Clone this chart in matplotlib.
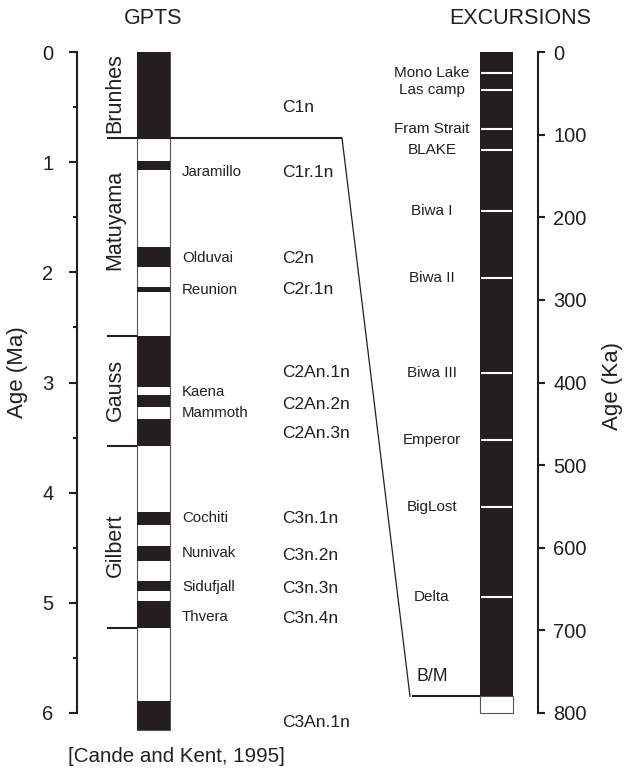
import matplotlib
matplotlib.use('Agg')
import matplotlib.pyplot as plt
from matplotlib.patches import Rectangle, ConnectionPatch
from matplotlib.ticker import FixedLocator

plt.rcParams['font.family'] = ['Liberation Sans', 'DejaVu Sans']

INK = '#231f20'

# ---------------- data ----------------
# GPTS normal-polarity intervals (Ma)
normal_top = [0.00, 0.99, 1.77, 2.13, 2.58, 3.11, 3.33, 4.18, 4.48, 4.80, 4.98, 5.89]
normal_base = [0.78, 1.07, 1.95, 2.18, 3.04, 3.22, 3.58, 4.29, 4.62, 4.89, 5.23, 6.15]
gpts_base = 6.15

epoch_names = ['Brunhes', 'Matuyama', 'Gauss', 'Gilbert']
epoch_label_age = [0.37, 1.52, 3.07, 4.48]
epoch_boundaries = [0.78, 2.58, 3.58, 5.23]

subchron_names = ['Jaramillo', 'Olduvai', 'Reunion', 'Kaena', 'Mammoth',
                  'Cochiti', 'Nunivak', 'Sidufjall', 'Thvera']
subchron_age = [1.09, 1.87, 2.16, 3.09, 3.28, 4.23, 4.55, 4.86, 5.13]

chron_names = ['C1n', 'C1r.1n', 'C2n', 'C2r.1n', 'C2An.1n', 'C2An.2n', 'C2An.3n',
               'C3n.1n', 'C3n.2n', 'C3n.3n', 'C3n.4n', 'C3An.1n']
chron_age = [0.50, 1.09, 1.87, 2.16, 2.91, 3.20, 3.46, 4.23, 4.57, 4.87, 5.14, 6.09]

left_ticks = [0, 1, 2, 3, 4, 5, 6]

# Excursions (ka)
excursion_names = ['Mono Lake', 'Las camp', 'Fram Strait', 'BLAKE', 'Biwa I',
                   'Biwa II', 'Biwa III', 'Emperor', 'BigLost', 'Delta']
excursion_age = [26, 46, 93, 119, 192, 273, 388, 470, 551, 660]
bm_age = 780
exc_base = 800
right_ticks = [0, 100, 200, 300, 400, 500, 600, 700, 800]

# ---------------- figure ----------------
W, H = 627, 770
fig = plt.figure(figsize=(W / 100, H / 100), dpi=100)

ax_bottom = (H - 713) / H
ax_height = (713 - 52) / H

# ---- GPTS axis ----
ax1 = fig.add_axes([77 / W, ax_bottom, 300 / W, ax_height])
ax1.set_xlim(0, 300)
ax1.set_ylim(6, 0)
ax1.patch.set_visible(False)
for s in ['top', 'right', 'bottom']:
    ax1.spines[s].set_visible(False)
ax1.spines['left'].set_linewidth(1.5)
ax1.spines['left'].set_color(INK)
ax1.set_xticks([])
ax1.set_yticks(left_ticks)
ax1.yaxis.set_minor_locator(FixedLocator([t + 0.5 for t in left_ticks[:-1]]))
ax1.tick_params(axis='y', which='major', length=6, width=1.5, pad=11,
                labelsize=14.5, colors=INK)
ax1.tick_params(axis='y', which='minor', length=3, width=1.5, colors=INK)
ax1.set_ylabel('Age (Ma)', fontsize=16, color=INK)
ax1.yaxis.set_label_coords(-0.197, 0.515)
ax1.yaxis.label.set_verticalalignment('center')

col_x, col_w = 60, 33
ax1.add_patch(Rectangle((col_x, 0), col_w, gpts_base, facecolor='white',
                        edgecolor='#555555', lw=0.8, clip_on=False, zorder=2))
for t, b in zip(normal_top, normal_base):
    ax1.add_patch(Rectangle((col_x, t), col_w, b - t, facecolor=INK,
                            edgecolor='none', clip_on=False, zorder=3))

ax1.plot([30, 265], [epoch_boundaries[0]] * 2, color=INK, lw=1.5,
         clip_on=False, zorder=4, solid_capstyle='butt')
for b in epoch_boundaries[1:]:
    ax1.plot([30, col_x], [b, b], color=INK, lw=1.5, clip_on=False, zorder=4,
             solid_capstyle='butt')

for name, a in zip(epoch_names, epoch_label_age):
    ax1.text(38, a, name, rotation=90, ha='center', va='center',
             fontsize=15.5, color=INK)
for name, a in zip(subchron_names, subchron_age):
    ax1.text(105, a, name, ha='left', va='center', fontsize=10.8, color=INK)
for name, a in zip(chron_names, chron_age):
    ax1.text(205, a, name, ha='left', va='center', fontsize=12.5, color=INK)

# ---- Excursions axis ----
ax2 = fig.add_axes([400 / W, ax_bottom, 138 / W, ax_height])
ax2.set_xlim(0, 138)
ax2.set_ylim(800, 0)
ax2.patch.set_visible(False)
for s in ['top', 'left', 'bottom']:
    ax2.spines[s].set_visible(False)
ax2.spines['right'].set_linewidth(1.5)
ax2.spines['right'].set_color(INK)
ax2.set_xticks([])
ax2.yaxis.tick_right()
ax2.set_yticks(right_ticks)
ax2.tick_params(axis='y', which='major', length=5, width=1.5, pad=6,
                labelsize=14.5, colors=INK)
ax2.yaxis.set_label_position('right')
ax2.set_ylabel('Age (Ka)', fontsize=16, color=INK)
ax2.yaxis.set_label_coords(1.543, 0.494)
ax2.yaxis.label.set_verticalalignment('center')

ecol_x, ecol_w = 80, 33
ax2.add_patch(Rectangle((ecol_x, 0), ecol_w, bm_age, facecolor=INK,
                        edgecolor='none', clip_on=False, zorder=2))
ax2.add_patch(Rectangle((ecol_x, bm_age), ecol_w, exc_base - bm_age,
                        facecolor='white', edgecolor='#555555', lw=0.8,
                        clip_on=False, zorder=2))
for name, a in zip(excursion_names, excursion_age):
    ax2.plot([ecol_x + 1, ecol_x + ecol_w - 1], [a, a], color='white', lw=1.5,
             zorder=3, solid_capstyle='butt')
    ax2.text(32, a, name, ha='center', va='center', fontsize=11, color=INK)

ax2.annotate('B/M', (32, bm_age), xytext=(0, 14.5), textcoords='offset points',
             ha='center', va='center', fontsize=12.8, color=INK)
ax2.plot([12, ecol_x], [bm_age, bm_age], color=INK, lw=1.5, clip_on=False,
         solid_capstyle='butt')

con = ConnectionPatch(xyA=(265, epoch_boundaries[0]), coordsA=ax1.transData,
                      xyB=(10, bm_age), coordsB=ax2.transData,
                      color=INK, lw=0.9)
fig.add_artist(con)

# ---- titles / citation ----
fig.text(153 / W, 1 - 19 / H, 'GPTS', ha='center', va='center',
         fontsize=15.5, color=INK)
fig.text(520 / W, 1 - 19 / H, 'EXCURSIONS', ha='center', va='center',
         fontsize=15.5, color=INK)
fig.text(68 / W, 1 - 757 / H, '[Cande and Kent, 1995]', ha='left',
         va='center', fontsize=14.8, color=INK)

fig.savefig('out.png', dpi=100, facecolor='white')
